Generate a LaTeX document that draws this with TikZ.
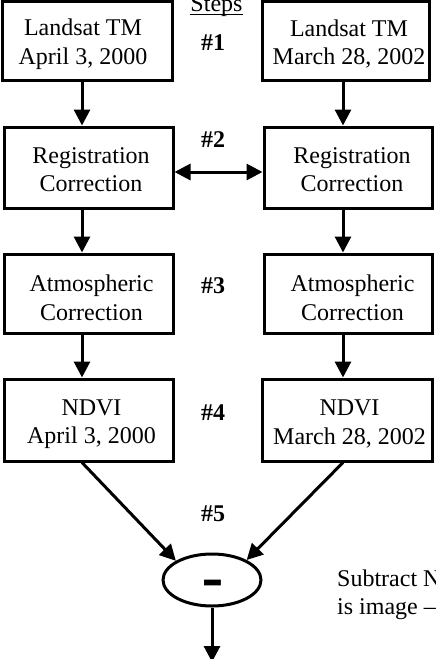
\documentclass[tikz,border=0pt]{standalone}
\usepackage{fontspec}
\setmainfont{Liberation Serif}
\newfontfamily\minusfont{Liberation Sans}
\usetikzlibrary{arrows.meta,shapes.geometric,calc}
\begin{document}
\begin{tikzpicture}[x=1pt,y=1pt,
  box/.style={draw, line width=3pt, rectangle, inner sep=0pt},
  boxtext/.style={align=center, font=\fontsize{24}{28.5}\selectfont, inner sep=0pt},
  steplbl/.style={font=\fontsize{24}{28}\selectfont\bfseries},
  arr/.style={line width=3pt, -{Triangle[length=16pt,width=16pt]}},
  darr/.style={line width=3pt, {Triangle[length=16pt,width=16pt]}-{Triangle[length=16pt,width=16pt]}}
]
\useasboundingbox (0,0) rectangle (436,-659);
\clip (0,0) rectangle (436,-659);
% row 1
\node[box, minimum width=170pt, minimum height=78.5pt] (l1) at (87,-41) {};
\node[box, minimum width=167pt, minimum height=78.5pt] (r1) at (345.5,-41) {};
\node[boxtext] (l1t) at (83,-44) {Landsat TM\\April 3, 2000};
\node[boxtext] (r1t) at (349,-44) {Landsat TM\\March 28, 2002};
% row 2
\node[box, minimum width=169pt, minimum height=81pt] (l2) at (88.5,-167.5) {};
\node[box, minimum width=168pt, minimum height=81pt] (r2) at (348,-167.5) {};
\node[boxtext] (l2t) at (91,-169.5) {Registration\\Correction};
\node[boxtext] (r2t) at (352,-169.5) {Registration\\Correction};
% row 3
\node[box, minimum width=169pt, minimum height=79pt] (l3) at (88.5,-293.5) {};
\node[box, minimum width=168pt, minimum height=79pt] (r3) at (348,-293.5) {};
\node[boxtext] (l3t) at (91.5,-298) {Atmospheric\\Correction};
\node[boxtext] (r3t) at (352.5,-298) {Atmospheric\\Correction};
% row 4
\node[box, minimum width=169pt, minimum height=82pt] (l4) at (88.5,-420) {};
\node[box, minimum width=170pt, minimum height=82pt] (r4) at (347,-420) {};
\node[boxtext] (l4t) at (91.5,-424) {NDVI\\April 3, 2000};
\node[boxtext] (r4t) at (349.5,-424) {NDVI\\March 28, 2002};
% minus ellipse
\node[draw, line width=3pt, ellipse, minimum width=98pt, minimum height=52pt, inner sep=0pt] (ell) at (212,-580) {};
\node[font=\fontsize{34}{34}\selectfont\minusfont\bfseries, inner sep=0pt] (minus) at (212.5,-589) {\scalebox{1}[1.7]{–}};
% step labels
\node[font=\fontsize{24}{28}\selectfont, anchor=base, inner sep=0pt] (steps) at (216.5,-11) {Steps};
\draw[line width=1.2pt] ($(steps.base west)+(0,-3.5)$) -- ($(steps.base east)+(0,-3.5)$);
\node[steplbl] (s1) at (213,-43) {\#1};
\node[steplbl] (s2) at (213,-140) {\#2};
\node[steplbl] (s3) at (213,-286) {\#3};
\node[steplbl] (s4) at (213,-413) {\#4};
\node[steplbl] (s5) at (213,-514) {\#5};
% side text
\node[font=\fontsize{24}{28}\selectfont, anchor=base west, inner sep=0pt, align=left] (sub) at (337,-586) {Subtract NDVI};
\node[font=\fontsize{24}{28}\selectfont, anchor=base west, inner sep=0pt, align=left] (img) at (337,-614) {is image -- NDVI};
% connectors
\draw[arr] (l1.south -| 82,0) -- (l2.north -| 82,0);
\draw[arr] (r1.south -| 343,0) -- (r2.north -| 343,0);
\draw[arr] (l2.south -| 82,0) -- (l3.north -| 82,0);
\draw[arr] (r2.south -| 343,0) -- (r3.north -| 343,0);
\draw[arr] (l3.south -| 82,0) -- (l4.north -| 82,0);
\draw[arr] (r3.south -| 343,0) -- (r4.north -| 343,0);
\draw[darr] (l2.east |- 0,-172) -- (r2.west |- 0,-172);
\draw[arr] (l4.south -| 82,0) -- (ell.152);
\draw[arr] (r4.south -| 343,0) -- (ell.30);
\coordinate (out) at (212,-662);
\draw[arr] (ell.south) -- (out);
\end{tikzpicture}
\end{document}
